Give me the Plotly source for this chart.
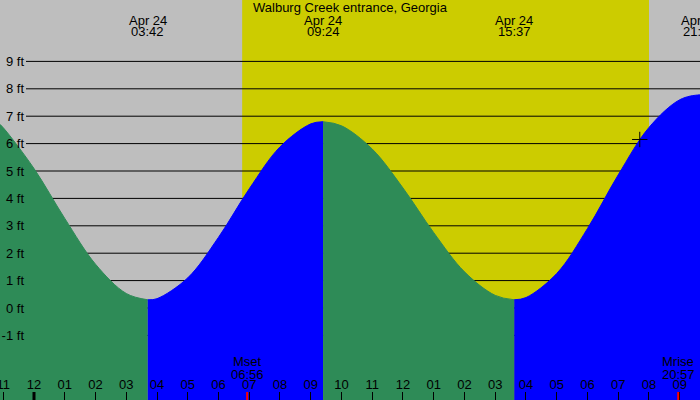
import plotly.graph_objects as go

# ---------------- data ----------------
station = "Walburg Creek entrance, Georgia"
date_label = "Apr 24"

# hours relative to midnight Apr 24, tide height in ft
hours = [-1.2, -1, 0, 1, 2, 3, 3.7, 4, 5, 6, 7, 8, 9, 9.4, 10, 11, 12, 13, 14,
         15, 15.617, 16, 17, 18, 19, 20, 21, 21.65, 22]
heights = [6.80, 6.58, 5.09, 3.27, 1.60, 0.53, 0.30, 0.34, 1.10, 2.58, 4.35, 5.88,
           6.72, 6.80, 6.65, 5.80, 4.38, 2.75, 1.32, 0.46, 0.30, 0.38, 1.26, 2.90,
           4.86, 6.59, 7.60, 7.78, 7.75]

extreme_times = [3.7, 9.4, 15.617, 21.65]
extreme_labels = ["03:42", "09:24", "15:37", "21:39"]

segment_states = ["falling", "rising", "falling", "rising"]
state_colors = {"falling": "#2E8B57", "rising": "#0000FF"}

sunrise = 6.77
sunset = 20.0

moon_times = [6.933, 20.95]
moon_names = ["Mset", "Mrise"]
moon_labels = ["06:56", "20:57"]

now_time = 19.7
now_height = 6.15

hour_ticks = list(range(-1, 22))
hour_labels = ["11", "12", "01", "02", "03", "04", "05", "06", "07", "08", "09",
               "10", "11", "12", "01", "02", "03", "04", "05", "06", "07", "08", "09"]

ft_ticks = [-1, 0, 1, 2, 3, 4, 5, 6, 7, 8, 9]
ft_labels = [f"{v} ft" for v in ft_ticks]

x_range = [-1.1057, 21.659]
y_range = [-3.358, 11.241]

FONT = "Liberation Sans"
FS = 13


def py(pix):
    """pixel row from top -> paper fraction"""
    return 1 - pix / 400


# ---------------- figure ----------------
fig = go.Figure()

# split the curve at the extremes
cut_idx = [0] + [hours.index(t) for t in extreme_times[:-1]] + [len(hours) - 1]
for k, state in enumerate(segment_states):
    s, e = cut_idx[k], cut_idx[k + 1]
    xs = hours[s:e + 1]
    ys = heights[s:e + 1]
    col = state_colors[state]
    fig.add_trace(go.Scatter(x=[xs[0], xs[-1]], y=[y_range[0], y_range[0]],
                             mode="lines", line=dict(width=0, color=col),
                             showlegend=False, hoverinfo="skip"))
    fig.add_trace(go.Scatter(x=xs, y=ys, mode="lines", fill="tonexty",
                             fillcolor=col, line=dict(color=col, width=1, shape="spline"),
                             showlegend=False, hoverinfo="skip"))

fig.add_trace(go.Scatter(x=[now_time], y=[now_height], mode="markers",
                         marker=dict(symbol="cross-thin", size=11,
                                     line=dict(color="black", width=1)),
                         showlegend=False, hoverinfo="skip"))

shapes = [dict(type="rect", xref="x", yref="paper", x0=sunrise, x1=sunset, y0=0, y1=1,
               fillcolor="#CCCC00", line=dict(width=0), layer="below")]
for v in ft_ticks:
    shapes.append(dict(type="line", xref="paper", yref="y", x0=26 / 700, x1=1, y0=v, y1=v,
                       line=dict(color="black", width=1), layer="below"))
shapes.append(dict(type="line", xref="x", yref="paper", x0=0, x1=0, y0=0, y1=8 / 400,
                   line=dict(color="black", width=3), layer="above"))
for t in moon_times:
    shapes.append(dict(type="line", xref="x", yref="paper", x0=t, x1=t, y0=0, y1=8 / 400,
                       line=dict(color="red", width=2), layer="above"))

tfont = dict(family=FONT, size=FS, color="black")
annotations = []
for t, lab in zip(extreme_times, extreme_labels):
    annotations.append(dict(x=t, xref="x", y=py(20), yref="paper", text=date_label,
                            showarrow=False, xanchor="center", yanchor="middle", font=tfont))
    annotations.append(dict(x=t, xref="x", y=py(32), yref="paper", text=lab,
                            showarrow=False, xanchor="center", yanchor="middle", font=tfont))
for t, nm, lab in zip(moon_times, moon_names, moon_labels):
    annotations.append(dict(x=t, xref="x", y=py(361.5), yref="paper", text=nm,
                            showarrow=False, xanchor="center", yanchor="middle", font=tfont))
    annotations.append(dict(x=t, xref="x", y=py(374), yref="paper", text=lab,
                            showarrow=False, xanchor="center", yanchor="middle", font=tfont))
annotations.append(dict(x=0.5, xref="paper", y=py(7.5), yref="paper",
                        text=station, showarrow=False, xanchor="center", yanchor="middle",
                        font=tfont))

fig.update_layout(
    width=700, height=400,
    margin=dict(l=0, r=0, t=0, b=0, autoexpand=False),
    paper_bgcolor="#BEBEBE", plot_bgcolor="#BEBEBE",
    showlegend=False,
    shapes=shapes, annotations=annotations,
    font=tfont,
    xaxis=dict(range=x_range, showgrid=False, zeroline=False, showline=False,
               automargin=False,
               tickmode="array", tickvals=hour_ticks, ticktext=hour_labels,
               ticks="inside", ticklen=8, tickwidth=1, tickcolor="black",
               ticklabelposition="inside", ticklabeloverflow="allow",
               tickfont=tfont),
    yaxis=dict(range=y_range, showgrid=False, zeroline=False, showline=False,
               automargin=False,
               anchor="free", position=24 / 700,
               tickmode="array", tickvals=ft_ticks, ticktext=ft_labels,
               ticks="", tickfont=tfont),
)

fig.write_html("out.html", config={"displayModeBar": False},
               post_script="document.body.style.margin='0';")
